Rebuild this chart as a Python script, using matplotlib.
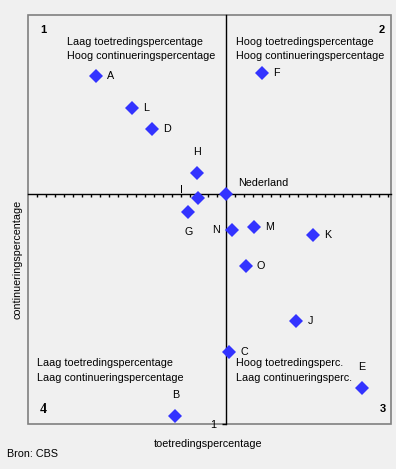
import matplotlib
matplotlib.use("Agg")
import matplotlib.pyplot as plt
from matplotlib.patches import Rectangle
import numpy as np

# ---- data (relative to Nederland = 0,0) ----
regions = ["A", "L", "D", "H", "I", "Nederland", "G", "N", "M", "K", "O", "J", "C", "E", "B", "F"]
toetreding = [-14.47, -10.44, -8.29, -3.22, -3.11, 0.0, -4.22, 0.67, 3.11, 9.67, 2.15, 7.78, 0.33, 15.08, -5.67, 4.0]
continuering = [13.11, 9.56, 7.22, 2.33, -0.44, 0.0, -2.0, -4.0, -3.67, -4.49, -8.0, -14.08, -17.56, -21.56, -24.67, 13.44]
x_range = [-22.0, 18.33]
y_range = [-25.52, 19.89]
x_minor_ticks = list(range(-21, 19))
y_tick_labels = ["1"]
quadrant_numbers = ["1", "2", "3", "4"]
quadrant_texts = [
    ["Laag toetredingspercentage", "Hoog continueringspercentage"],
    ["Hoog toetredingspercentage", "Hoog continueringspercentage"],
    ["Hoog toetredingsperc.", "Laag continueringsperc."],
    ["Laag toetredingspercentage", "Laag continueringspercentage"],
]
x_label = "toetredingspercentage"
y_label = "continueringspercentage"
source = "Bron: CBS"

# ---- label placement (pixel offsets, style only) ----
PX = 0.72  # points per pixel at 100 dpi
label_style = {
    "A": (11, 0, "left"), "L": (11, 0, "left"), "D": (11, 0, "left"),
    "F": (11, 0, "left"), "M": (11, 0, "left"), "K": (11, 0, "left"),
    "O": (11, 0, "left"), "J": (11, 0, "left"), "C": (11, 0, "left"),
    "H": (0, 21, "center"), "E": (0, 21.5, "center"), "B": (0, 21.5, "center"),
    "G": (0, -19.5, "center"), "N": (-12, 0, "right"), "I": (-16.5, 8, "center"),
    "Nederland": (11.5, 11.3, "left"),
}

W, H = 396, 469
plt.rcParams["font.family"] = ["Liberation Sans", "DejaVu Sans"]
bg = "#F0F0F0"
fig = plt.figure(figsize=(W / 100, H / 100), dpi=100, facecolor=bg)
left, right, top, bottom = 28.3, 391.3, 15.3, 424.0
ax = fig.add_axes([left / W, (H - bottom) / H, (right - left) / W, (bottom - top) / H])
ax.set_facecolor(bg)
ax.set_xlim(*x_range)
ax.set_ylim(*y_range)

# axis lines through the origin
for s in ["top", "right"]:
    ax.spines[s].set_visible(False)
ax.spines["bottom"].set_position(("data", 0))
ax.spines["left"].set_position(("data", 0))
for s in ["bottom", "left"]:
    ax.spines[s].set_color("black")
    ax.spines[s].set_linewidth(1.0)
ax.add_patch(Rectangle((0, 0), 1, 1, transform=ax.transAxes, fill=False,
                       edgecolor="#808080", linewidth=1.2, clip_on=False, zorder=0))

ax.set_xticks(x_minor_ticks)
ax.set_xticklabels([""] * len(x_minor_ticks))
ax.tick_params(axis="x", direction="out", length=2.2, width=1.0, color="black")
ax.set_yticks([y_range[0]])
ax.set_yticklabels(y_tick_labels, fontsize=7.75)
ax.tick_params(axis="y", direction="out", length=3, width=1.0, color="black", pad=4)

ax.plot(toetreding, continuering, linestyle="none", marker="D", markersize=7.0,
        color="#3333FF", markeredgewidth=0, zorder=5, clip_on=False)

fs = 7.75
for name, xv, yv in zip(regions, toetreding, continuering):
    dx, dy, ha = label_style[name]
    ax.annotate(name, (xv, yv), xytext=(dx * PX, dy * PX), textcoords="offset points",
                ha=ha, va="center", fontsize=fs, zorder=6)

def fig_text(px, py, s, **kw):
    fig.text(px / W, 1 - py / H, s, **kw)

# quadrant numbers
fig_text(43.3, 30, quadrant_numbers[0], ha="center", va="center", fontsize=8, fontweight="bold")
fig_text(381.3, 30, quadrant_numbers[1], ha="center", va="center", fontsize=8, fontweight="bold")
fig_text(382.7, 409, quadrant_numbers[2], ha="center", va="center", fontsize=8, fontweight="bold")
fig_text(43.7, 409, quadrant_numbers[3], ha="center", va="center", fontsize=10, fontweight="bold",
         family=["Liberation Serif", "DejaVu Serif"])

# quadrant descriptions
q_pos = [(66.7, 41.7), (235.7, 41.7), (235.7, 363.3), (36.7, 363.3)]
for (px, py), lines in zip(q_pos, quadrant_texts):
    fig_text(px, py, lines[0], ha="left", va="center", fontsize=fs)
    fig_text(px, py + 14.5, lines[1], ha="left", va="center", fontsize=fs)

fig_text(208.3, 444, x_label, ha="center", va="center", fontsize=fs)
fig_text(17.7, 259.5, y_label, ha="center", va="center", fontsize=fs, rotation=90)
fig_text(6.7, 453.7, source, ha="left", va="center", fontsize=fs)

fig.savefig("out.png", dpi=100, facecolor=bg)
